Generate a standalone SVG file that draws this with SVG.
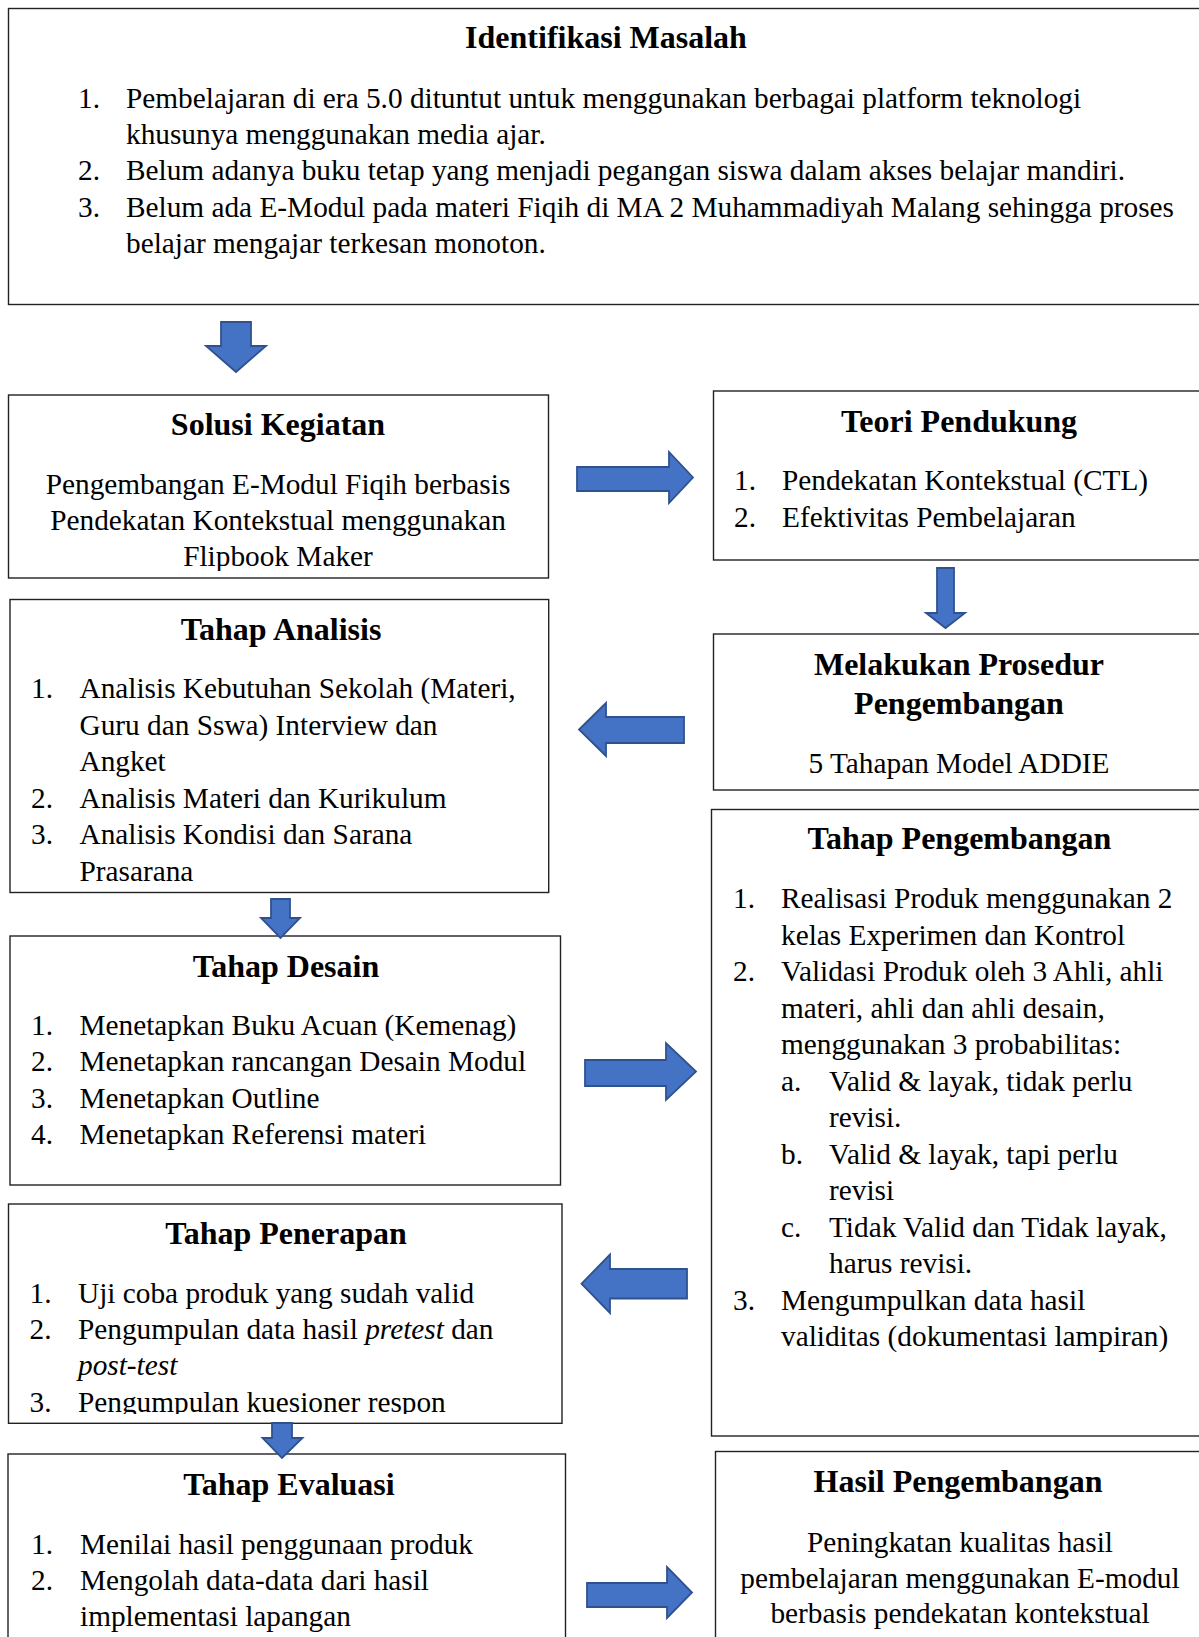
<svg xmlns="http://www.w3.org/2000/svg" width="1199" height="1637" viewBox="0 0 1199 1637">
<style>
.box{fill:#fff;stroke:#222;stroke-width:1.4}
.arr{fill:#4472C4;stroke:#2F528F;stroke-width:1.8;stroke-linejoin:miter}
text{font-family:"Liberation Serif","Times New Roman",serif;fill:#000}
.t{font-size:32px;font-weight:bold;text-anchor:middle}
.b{font-size:29.3px}
.c{font-size:29.3px;text-anchor:middle}
.i{font-style:italic}
</style>
<defs>
<clipPath id="clipSolusi"><rect x="0" y="380" width="560" height="191"/></clipPath>
<clipPath id="clipPenerapan"><rect x="0" y="1200" width="570" height="214"/></clipPath>
</defs>
<rect width="1199" height="1637" fill="#fff"/>

<g id="identifikasi">
<rect class="box" x="8.5" y="8.5" width="1210" height="296"/>
<text class="t" x="606" y="48">Identifikasi Masalah</text>
<text class="b" x="78" y="107.5">1.</text><text class="b" x="126" y="107.5">Pembelajaran di era 5.0 dituntut untuk menggunakan berbagai platform teknologi</text>
<text class="b" x="126" y="143.8">khusunya menggunakan media ajar.</text>
<text class="b" x="78" y="180">2.</text><text class="b" x="126" y="180">Belum adanya buku tetap yang menjadi pegangan siswa dalam akses belajar mandiri.</text>
<text class="b" x="78" y="216.5">3.</text><text class="b" x="126" y="216.5">Belum ada E-Modul pada materi Fiqih di MA 2 Muhammadiyah Malang sehingga proses</text>
<text class="b" x="126" y="253">belajar mengajar terkesan monoton.</text>
</g>

<g id="solusi">
<rect class="box" x="8.5" y="395" width="540" height="183"/>
<text class="t" x="278" y="435">Solusi Kegiatan</text>
<g clip-path="url(#clipSolusi)">
<text class="c" x="278" y="494">Pengembangan E-Modul Fiqih berbasis</text>
<text class="c" x="278" y="530">Pendekatan Kontekstual menggunakan</text>
<text class="c" x="278" y="566">Flipbook Maker</text>
</g>
</g>

<g id="teori">
<rect class="box" x="713.5" y="391" width="500" height="169"/>
<text class="t" x="959" y="431.5">Teori Pendukung</text>
<text class="b" x="734" y="490">1.</text><text class="b" x="782" y="490">Pendekatan Kontekstual (CTL)</text>
<text class="b" x="734" y="526.5">2.</text><text class="b" x="782" y="526.5">Efektivitas Pembelajaran</text>
</g>

<g id="prosedur">
<rect class="box" x="713.5" y="634" width="500" height="156"/>
<text class="t" x="959" y="675.3">Melakukan Prosedur</text>
<text class="t" x="959" y="713.7">Pengembangan</text>
<text class="c" x="959" y="773.3">5 Tahapan Model ADDIE</text>
</g>

<g id="analisis">
<rect class="box" x="10" y="599.5" width="538.7" height="293"/>
<text class="t" x="281" y="640">Tahap Analisis</text>
<text class="b" x="31" y="698.3">1.</text><text class="b" x="79.5" y="698.3">Analisis Kebutuhan Sekolah (Materi,</text>
<text class="b" x="79.5" y="734.8">Guru dan Sswa) Interview dan</text>
<text class="b" x="79.5" y="771.3">Angket</text>
<text class="b" x="31" y="807.8">2.</text><text class="b" x="79.5" y="807.8">Analisis Materi dan Kurikulum</text>
<text class="b" x="31" y="844.3">3.</text><text class="b" x="79.5" y="844.3">Analisis Kondisi dan Sarana</text>
<text class="b" x="79.5" y="880.8">Prasarana</text>
</g>

<g id="desain">
<rect class="box" x="10" y="936" width="550.5" height="249"/>
<text class="t" x="286" y="976.7">Tahap Desain</text>
<text class="b" x="31" y="1035">1.</text><text class="b" x="79.5" y="1035">Menetapkan Buku Acuan (Kemenag)</text>
<text class="b" x="31" y="1071.3">2.</text><text class="b" x="79.5" y="1071.3">Menetapkan rancangan Desain Modul</text>
<text class="b" x="31" y="1107.5">3.</text><text class="b" x="79.5" y="1107.5">Menetapkan Outline</text>
<text class="b" x="31" y="1143.7">4.</text><text class="b" x="79.5" y="1143.7">Menetapkan Referensi materi</text>
</g>

<g id="penerapan">
<rect class="box" x="8.5" y="1204" width="553.5" height="219.3"/>
<text class="t" x="286" y="1244.3">Tahap Penerapan</text>
<g clip-path="url(#clipPenerapan)">
<text class="b" x="29.5" y="1302.5">1.</text><text class="b" x="78" y="1302.5">Uji coba produk yang sudah valid</text>
<text class="b" x="29.5" y="1338.8">2.</text><text class="b" x="78" y="1338.8">Pengumpulan data hasil <tspan class="i">pretest</tspan> dan</text>
<text class="b i" x="78" y="1375.2">post-test</text>
<text class="b" x="29.5" y="1411.5">3.</text><text class="b" x="78" y="1411.5">Pengumpulan kuesioner respon</text>
</g>
</g>

<g id="evaluasi">
<rect class="box" x="8" y="1454" width="557.5" height="200"/>
<text class="t" x="289" y="1495">Tahap Evaluasi</text>
<text class="b" x="31" y="1553.8">1.</text><text class="b" x="80" y="1553.8">Menilai hasil penggunaan produk</text>
<text class="b" x="31" y="1589.8">2.</text><text class="b" x="80" y="1589.8">Mengolah data-data dari hasil</text>
<text class="b" x="80" y="1625.8">implementasi lapangan</text>
</g>

<g id="pengembangan">
<rect class="box" x="711.5" y="809.5" width="500" height="626.5"/>
<text class="t" x="959.5" y="849.3">Tahap Pengembangan</text>
<text class="b" x="733" y="908.3">1.</text><text class="b" x="781" y="908.3">Realisasi Produk menggunakan 2</text>
<text class="b" x="781" y="944.8">kelas Experimen dan Kontrol</text>
<text class="b" x="733" y="981.3">2.</text><text class="b" x="781" y="981.3">Validasi Produk oleh 3 Ahli, ahli</text>
<text class="b" x="781" y="1017.8">materi, ahli dan ahli desain,</text>
<text class="b" x="781" y="1054.3">menggunakan 3 probabilitas:</text>
<text class="b" x="781" y="1090.8">a.</text><text class="b" x="829" y="1090.8">Valid &amp; layak, tidak perlu</text>
<text class="b" x="829" y="1127.3">revisi.</text>
<text class="b" x="781" y="1163.8">b.</text><text class="b" x="829" y="1163.8">Valid &amp; layak, tapi perlu</text>
<text class="b" x="829" y="1200.3">revisi</text>
<text class="b" x="781" y="1236.8">c.</text><text class="b" x="829" y="1236.8">Tidak Valid dan Tidak layak,</text>
<text class="b" x="829" y="1273.3">harus revisi.</text>
<text class="b" x="733" y="1309.8">3.</text><text class="b" x="781" y="1309.8">Mengumpulkan data hasil</text>
<text class="b" x="781" y="1346.3">validitas (dokumentasi lampiran)</text>
</g>

<g id="hasil">
<rect class="box" x="715.5" y="1451.5" width="500" height="200"/>
<text class="t" x="958" y="1491.7">Hasil Pengembangan</text>
<text class="c" x="960" y="1551.7">Peningkatan kualitas hasil</text>
<text class="c" x="960" y="1587.5">pembelajaran menggunakan E-modul</text>
<text class="c" x="960" y="1623.3">berbasis pendekatan kontekstual</text>
</g>

<g id="connectors">
<polygon class="arr" points="221,322 251,322 251,346 266,346 236,372 206,346 221,346"/>
<polygon class="arr" points="577,467 669,467 669,452 693,477.5 669,503 669,491 577,491"/>
<polygon class="arr" points="937,568 954,568 954,613 965,613 945.5,628 926,613 937,613"/>
<polygon class="arr" points="684,717 606,717 606,703 579,729.5 606,756 606,743 684,743"/>
<polygon class="arr" points="271,899 290,899 290,918 300,918 280.5,938 261,918 271,918"/>
<polygon class="arr" points="585,1060 666,1060 666,1043 696,1071.5 666,1100 666,1086 585,1086"/>
<polygon class="arr" points="687,1269 610,1269 610,1254.5 581.5,1283.7 610,1313 610,1298.5 687,1298.5"/>
<polygon class="arr" points="272,1423 292,1423 292,1438 302.5,1438 282,1458 262.5,1438 272,1438"/>
<polygon class="arr" points="587,1583 667,1583 667,1567 692,1592.5 667,1618 667,1607 587,1607"/>
</g>
</svg>
